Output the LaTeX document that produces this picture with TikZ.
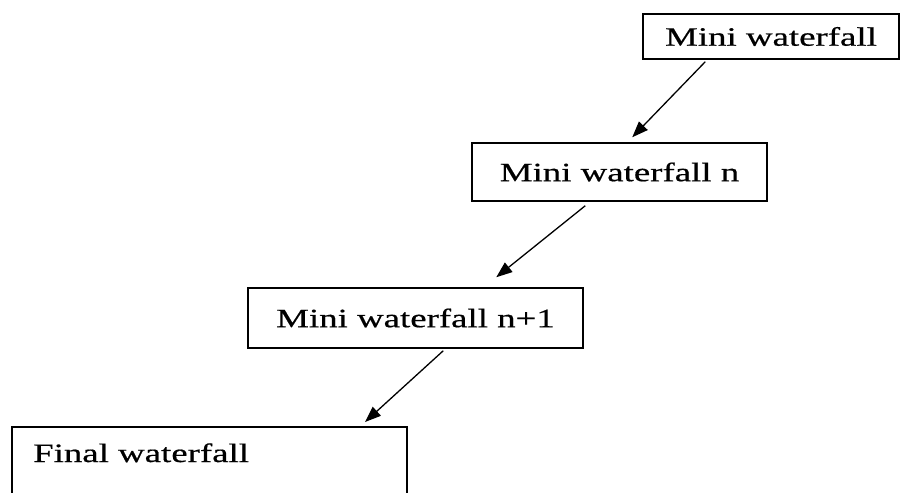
\documentclass[tikz,border=0pt]{standalone}
\usepackage{fontspec}
\setmainfont{Liberation Serif}[FakeStretch=1.39, FakeBold=0.6]
\usetikzlibrary{arrows.meta}

\begin{document}
\begin{tikzpicture}[
  x=1pt, y=-1pt,
  stagebox/.style={draw, line width=1.5pt, rectangle, inner sep=0pt,
    font=\fontsize{26.5}{30}\selectfont},
  flow/.style={draw, line width=1.3pt,
    -{Triangle[length=16pt,width=12pt]}},
  boxlabel/.style={inner sep=0pt, font=\fontsize{26.5}{30}\selectfont}
]
  \useasboundingbox (0,0) rectangle (901,492);
  \clip (0,0) rectangle (901,492);

  % cascade of stages
  \node[stagebox, minimum width=256pt, minimum height=45pt]
    (b1) at (771,36.5) {Mini waterfall};
  \node[stagebox, minimum width=295pt, minimum height=58pt]
    (b2) at (619.5,172) {Mini waterfall n};
  \node[stagebox, minimum width=335pt, minimum height=60pt]
    (b3) at (415.5,318) {Mini waterfall n+1};
  \node[stagebox, minimum width=395pt, minimum height=90pt, anchor=north west]
    (b4) at (11,426) {};
  \node[boxlabel, anchor=base west] (b4text) at (33,462) {Final waterfall};

  % arrows between stages
  \draw[flow] ([xshift=63pt,yshift=-2pt]b1.south west)
           -- ([xshift=161pt,yshift=5pt]b2.north west);
  \draw[flow] ([xshift=114pt,yshift=-4pt]b2.south west)
           -- ([xshift=249pt,yshift=10pt]b3.north west);
  \draw[flow] ([xshift=196pt,yshift=-2pt]b3.south west)
           -- ([xshift=354pt,yshift=4pt]b4.north west);
\end{tikzpicture}
\end{document}
